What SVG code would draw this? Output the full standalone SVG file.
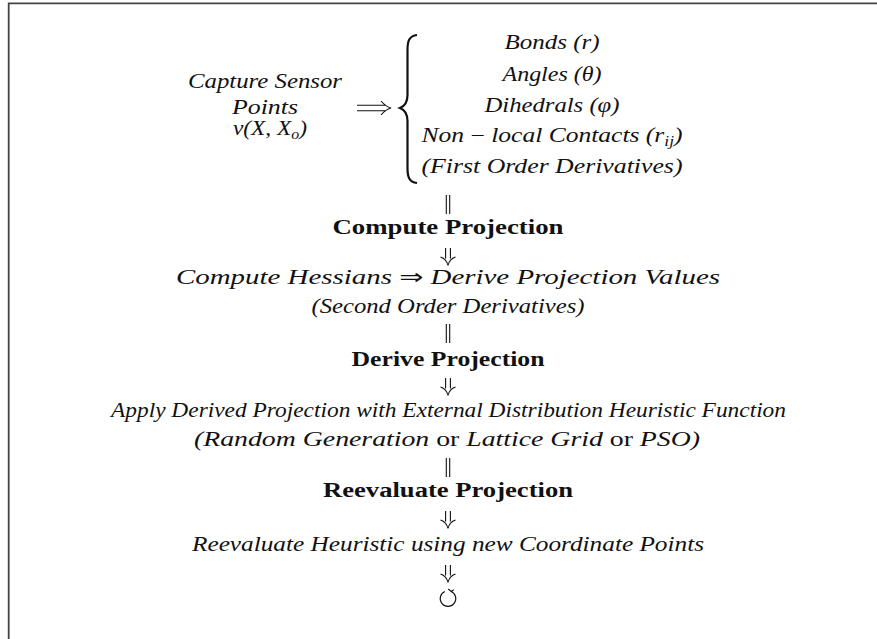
<svg xmlns="http://www.w3.org/2000/svg" xmlns:xlink="http://www.w3.org/1999/xlink" width="877" height="639" viewBox="0 0 877 639">
<style>
.it{font-family:"Liberation Serif",serif;font-style:italic;font-size:20.5px;fill:#111}
.bf{font-family:"Liberation Serif",serif;font-weight:bold;font-size:20px;fill:#111}
.rm{font-style:normal}
.sub{font-size:14px}
.sym{font-family:"DejaVu Sans",sans-serif;font-style:normal}
.ln{fill:none;stroke:#111;stroke-width:1.1}
</style>
<defs>
<g id="dbar"><path class="ln" d="M-1.7,0 V19 M1.7,0 V19"/></g>
<g id="darr"><path class="ln" d="M-2.4,0 V10.5 M2.4,0 V10.5 M-7.5,9 C-3,10.5 -1,13 0,17.5 C1,13 3,10.5 7.5,9"/></g>
</defs>
<rect width="877" height="639" fill="#fff"/>
<path d="M8.7,639 V3.3 H877" fill="none" stroke="#444" stroke-width="1.8"/>

<g id="capture">
<text class="it" x="265" y="88" text-anchor="middle" textLength="154" lengthAdjust="spacingAndGlyphs">Capture Sensor</text>
<text class="it" x="265" y="114" text-anchor="middle" textLength="66" lengthAdjust="spacingAndGlyphs">Points</text>
<text class="it" x="270" y="135" text-anchor="middle" textLength="74" lengthAdjust="spacingAndGlyphs">v(X, X<tspan class="sub" dy="4">o</tspan><tspan dy="-4">)</tspan></text>
</g>

<g id="features">
<path d="M417,35 C409,36 407.5,41 407.5,50 V95 C407.5,102 405,106 400,108 C405,110 407.5,114 407.5,121 V168 C407.5,177 409,182 417,183" fill="none" stroke="#111" stroke-width="2.2"/>
<text class="it" x="552" y="49" text-anchor="middle" textLength="95" lengthAdjust="spacingAndGlyphs">Bonds (r)</text>
<text class="it" x="552" y="81" text-anchor="middle" textLength="99" lengthAdjust="spacingAndGlyphs">Angles (θ)</text>
<text class="it" x="552" y="112" text-anchor="middle" textLength="135" lengthAdjust="spacingAndGlyphs">Dihedrals (φ)</text>
<text class="it" x="552" y="142" text-anchor="middle" textLength="261" lengthAdjust="spacingAndGlyphs">Non <tspan class="rm">−</tspan> local Contacts (r<tspan class="sub" dy="4">ij</tspan><tspan dy="-4">)</tspan></text>
<text class="it" x="552" y="173" text-anchor="middle" textLength="261" lengthAdjust="spacingAndGlyphs">(First Order Derivatives)</text>
</g>

<g id="compute-projection">
<text class="bf" x="448" y="233.5" text-anchor="middle" textLength="231" lengthAdjust="spacingAndGlyphs">Compute Projection</text>
</g>
<g id="hessians">
<text class="it" x="448" y="284" text-anchor="middle" textLength="544" lengthAdjust="spacingAndGlyphs">Compute Hessians <tspan class="sym">⇒</tspan> Derive Projection Values</text>
<text class="it" x="448" y="313" text-anchor="middle" textLength="273" lengthAdjust="spacingAndGlyphs">(Second Order Derivatives)</text>
</g>
<g id="derive-projection">
<text class="bf" x="448" y="366" text-anchor="middle" textLength="193" lengthAdjust="spacingAndGlyphs">Derive Projection</text>
</g>
<g id="apply">
<text class="it" x="448.5" y="417" text-anchor="middle" textLength="675" lengthAdjust="spacingAndGlyphs">Apply Derived Projection with External Distribution Heuristic Function</text>
<text class="it" x="447" y="446" text-anchor="middle" textLength="506" lengthAdjust="spacingAndGlyphs">(Random Generation <tspan class="rm">or</tspan> Lattice Grid <tspan class="rm">or</tspan> PSO)</text>
</g>
<g id="reevaluate-projection">
<text class="bf" x="448" y="496.5" text-anchor="middle" textLength="250" lengthAdjust="spacingAndGlyphs">Reevaluate Projection</text>
</g>
<g id="reevaluate-heuristic">
<text class="it" x="448" y="550.5" text-anchor="middle" textLength="512" lengthAdjust="spacingAndGlyphs">Reevaluate Heuristic using new Coordinate Points</text>
</g>
<g id="loop">
<path class="ln" d="M444.8,591.5 A7.8,7.8 0 1 0 451.2,591.5 M448.3,589 L451.2,591.5 L453.8,589.8"/>
</g>

<g id="connectors">
<path class="ln" d="M357,105.3 H386 M357,110.7 H386 M381,101 C384,104.5 387,107 391,108 C387,109 384,111.5 381,115"/>
<use xlink:href="#dbar" x="448" y="195"/>
<use xlink:href="#darr" x="448" y="248"/>
<use xlink:href="#dbar" x="448" y="324"/>
<use xlink:href="#darr" x="448" y="378"/>
<use xlink:href="#dbar" x="448" y="458"/>
<use xlink:href="#darr" x="448" y="511"/>
<use xlink:href="#darr" x="448" y="565"/>
</g>
</svg>
